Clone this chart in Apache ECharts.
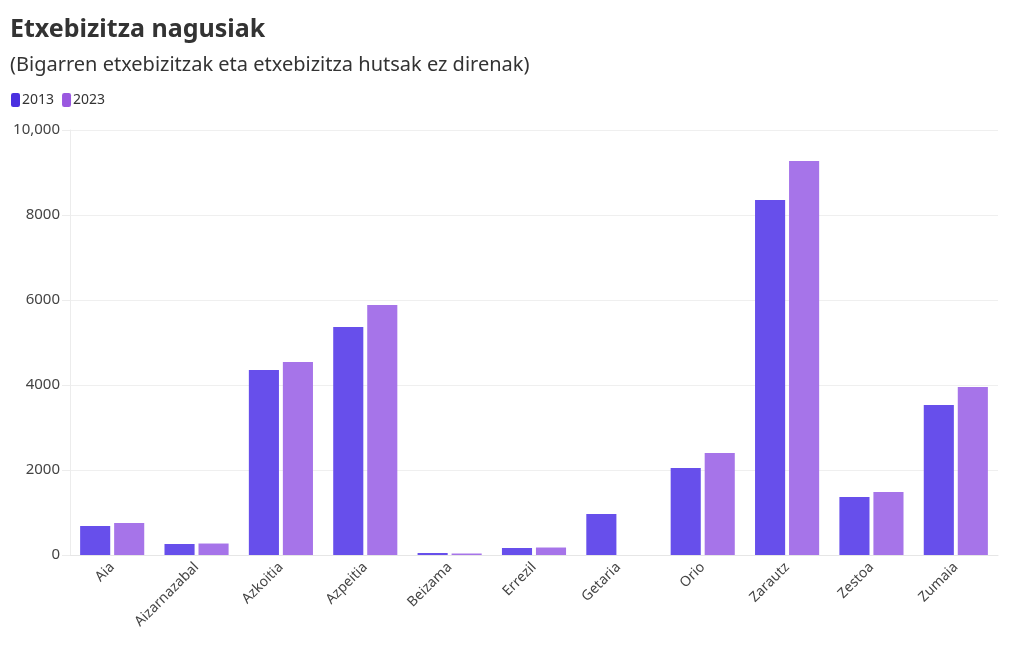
<!DOCTYPE html>
<html><head><meta charset="utf-8">
<script src="https://cdn.jsdelivr.net/npm/echarts@6/dist/echarts.min.js"></script>
<style>html,body{margin:0;padding:0;background:#fff}#c{width:1020px;height:650px}</style>
</head><body><div id="c"></div>
<script>
const categories = ['Aia','Aizarnazabal','Azkoitia','Azpeitia','Beizama','Errezil','Getaria','Orio','Zarautz','Zestoa','Zumaia'];
const values2013 = [682, 259, 4353, 5365, 47, 165, 965, 2047, 8353, 1365, 3529];
const values2023 = [753, 270, 4541, 5882, 35, 176, null, 2400, 9270, 1482, 3953];
const seriesNames = ['2013', '2023'];
const titleText = 'Etxebizitza nagusiak';
const subtitleText = '(Bigarren etxebizitzak eta etxebizitza hutsak ez direnak)';

const font = '"Noto Sans", sans-serif';
const chart = echarts.init(document.getElementById('c'));
chart.setOption({
  animation: false,
  title: {
    text: titleText, subtext: subtitleText, left: 5, top: 12, itemGap: 13,
    textStyle: { fontFamily: font, fontSize: 25, fontWeight: 'bold', color: '#333' },
    subtextStyle: { fontFamily: font, fontSize: 20, color: '#333' }
  },
  legend: {
    left: 6, top: 88, itemWidth: 9, itemHeight: 14, itemGap: 8,
    icon: 'roundRect',
    itemStyle: { borderWidth: 0 },
    textStyle: { fontFamily: font, fontSize: 14, color: '#333', padding: [0,0,0,-3] },
    data: [{name: seriesNames[0], itemStyle:{color:'#4a30e0', borderWidth:0}}, {name: seriesNames[1], itemStyle:{color:'#9a58e0', borderWidth:0}}]
  },
  grid: { left: 70, right: 22, top: 130, bottom: 95 },
  xAxis: {
    type: 'category', data: categories,
    axisLine: { lineStyle: { color: '#e6e6e6' } },
    axisTick: { alignWithLabel: true, length: 5, lineStyle: { color: '#e6e6e6' } },
    axisLabel: { rotate: 45, fontFamily: font, fontSize: 14, color: '#444', margin: 10 }
  },
  yAxis: {
    type: 'value', min: 0, max: 10000, interval: 2000,
    axisLine: { show: true, lineStyle: { color: '#ececec' } },
    axisTick: { show: true, length: 8, lineStyle: { color: '#ececec' } },
    splitLine: { lineStyle: { color: '#efefef' } },
    axisLabel: { fontFamily: font, fontSize: 15, color: '#444', margin: 10,
      formatter: v => v === 10000 ? '10,000' : String(v) }
  },
  series: [
    { name: seriesNames[0], type: 'bar', data: values2013, barGap: '13%', barCategoryGap: '24%',
      itemStyle: { color: '#674feb' } },
    { name: seriesNames[1], type: 'bar', data: values2023,
      itemStyle: { color: '#a674e9' } }
  ]
});
</script></body></html>
